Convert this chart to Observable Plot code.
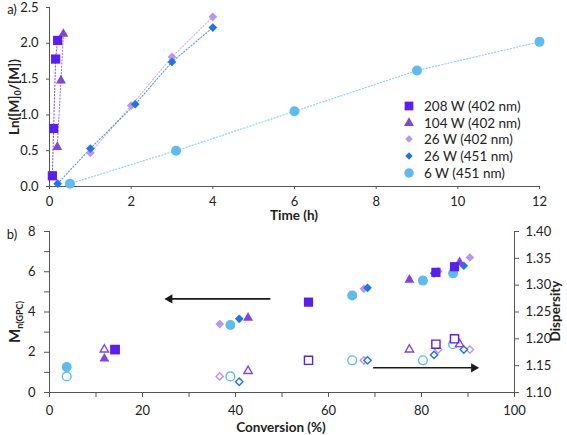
<!DOCTYPE html>
<html><head><meta charset="utf-8">
<script src="https://cdn.jsdelivr.net/npm/d3@7"></script>
<script src="https://cdn.jsdelivr.net/npm/@observablehq/plot@0.6"></script>
<style>
body{margin:0;background:#fff;font-family:Lato,"Open Sans",sans-serif;}
#wrap{position:relative;width:567px;height:435px;overflow:hidden;background:#fff}
#wrap svg{position:absolute;left:0}
.abs{position:absolute;white-space:nowrap;color:#222;font-size:13px;line-height:1}
.b{font-weight:bold;font-size:13.5px}
.rot{transform:translate(-50%,-50%) rotate(-90deg)}
.ctr{transform:translate(-50%,-50%)}
.leg{position:absolute;left:402px;top:98px;font-size:13.5px;color:#222}
.leg div{height:16.6px;display:flex;align-items:center}
.leg svg{position:static!important;margin-right:8px}
</style></head><body><div id="wrap"></div>
<script>
// ---------- series ----------
const seriesNames   = ["208 W (402 nm)", "104 W (402 nm)", "26 W (402 nm)", "26 W (451 nm)", "6 W (451 nm)"];
const seriesColors  = ["#5a1ff0", "#7d45e3", "#b895ee", "#1f74ea", "#5dbcee"];
const seriesSymbols = ["square", "triangle", "diamond2", "diamond2", "circle"];
const seriesRadius  = [5.2, 3.7, 3.9, 3.9, 5];

// ---------- a) kinetics: time (h) and Ln([M]0/[M]) ----------
const time208 = [0.07, 0.10, 0.15, 0.20];
const ln208   = [0.15, 0.81, 1.78, 2.04];
const time104 = [0.19, 0.28, 0.34];
const ln104   = [0.55, 1.48, 2.13];
const time26a = [1.0, 2.0, 3.0, 4.0];
const ln26a   = [0.47, 1.13, 1.81, 2.37];
const time26b = [0.2, 1.0, 2.1, 3.0, 4.0];
const ln26b   = [0.04, 0.53, 1.15, 1.74, 2.22];
const time6   = [0.5, 3.1, 6.0, 9.0, 12.0];
const ln6     = [0.04, 0.50, 1.05, 1.62, 2.02];
const timeTicks = [0, 2, 4, 6, 8, 10, 12];
const lnTicks   = [0, 0.5, 1.0, 1.5, 2.0, 2.5];

// ---------- b) conversion (%), Mn(GPC), dispersity ----------
const conv208 = [14.1, 55.7, 83.1, 87.1];
const mn208   = [2.13, 4.49, 5.97, 6.25];
const disp208 = [1.18, 1.16, 1.19, 1.20];
const conv104 = [11.8, 42.7, 77.4, 88.2];
const mn104   = [1.68, 3.71, 5.60, 6.47];
const disp104 = [1.18, 1.14, 1.18, 1.19];
const conv26a = [36.6, 67.6, 83.6, 90.4];
const mn26a   = [3.40, 5.15, 6.02, 6.71];
const disp26a = [1.13, 1.16, 1.18, 1.18];
const conv26b = [40.8, 68.4, 82.7, 89.1];
const mn26b   = [3.66, 5.20, 5.92, 6.30];
const disp26b = [1.12, 1.16, 1.17, 1.18];
const conv6   = [3.7, 38.9, 65.1, 80.3, 86.8];
const mn6     = [1.27, 3.35, 4.82, 5.56, 5.92];
const disp6   = [1.13, 1.13, 1.16, 1.16, 1.19];
const convTicks = [0, 10, 20, 30, 40, 50, 60, 70, 80, 90, 100];
const mnTicks   = [0, 1, 2, 3, 4, 5, 6, 7, 8];
const dispTicks = [1.10, 1.15, 1.20, 1.25, 1.30, 1.35, 1.40];
const mnDomain = [0, 8];
const dispDomain = [1.10, 1.40];
// arrows: [from, to] in conversion, at level
const arrowMn   = {from: 47.5, to: 25.0, level: 4.65};   // Mn axis
const arrowDisp = {from: 69.6, to: 92.1, level: 1.146};  // dispersity axis

const FONT = 'Lato, "Open Sans", sans-serif';
const dispToMn = d => (d - dispDomain[0]) / (dispDomain[1] - dispDomain[0]) * (mnDomain[1] - mnDomain[0]) + mnDomain[0];

const kinTimes = [time208, time104, time26a, time26b, time6];
const kinVals  = [ln208, ln104, ln26a, ln26b, ln6];
const kin = seriesNames.map((s, i) => kinTimes[i].map((t, j) => ({s, i, t, v: kinVals[i][j]})));

const convs = [conv208, conv104, conv26a, conv26b, conv6];
const mns   = [mn208, mn104, mn26a, mn26b, mn6];
const disps = [disp208, disp104, disp26a, disp26b, disp6];
const gpc = seriesNames.map((s, i) => convs[i].map((c, j) => ({s, i, c, mn: mns[i][j], d: disps[i][j], dy: dispToMn(disps[i][j])})));

const drawOrderTop = [4, 2, 3, 1, 0];

const topPlot = Plot.plot({
  width: 567, height: 218, marginLeft: 49, marginRight: 28, marginTop: 7, marginBottom: 32,
  style: {fontFamily: FONT, fontSize: "13px", color: "#222", background: "transparent"},
  x: {domain: [0, 12]}, y: {domain: [0, 2.5]},
  marks: [
    Plot.axisX({ticks: timeTicks, tickSize: 3, tickPadding: 7, label: null, stroke: "#555"}),
    Plot.axisY({ticks: lnTicks, tickFormat: d => d.toFixed(1), tickSize: 3, tickPadding: 8, label: null, stroke: "#555"}),
    Plot.ruleX([0], {stroke: "#555"}),
    Plot.ruleY([0], {stroke: "#555"}),
    ...drawOrderTop.map(i => Plot.line(kin[i], {x: "t", y: "v", stroke: seriesColors[i], strokeWidth: 1.1, strokeDasharray: "1.2,2", strokeOpacity: 0.75})),
    ...drawOrderTop.map(i => Plot.dot(kin[i], {x: "t", y: "v", symbol: seriesSymbols[i], fill: seriesColors[i], r: seriesRadius[i], stroke: "none"}))
  ]
});
topPlot.style.top = "0px";

const bottomPlot = Plot.plot({
  width: 567, height: 217, marginLeft: 49, marginRight: 53, marginTop: 13, marginBottom: 43,
  style: {fontFamily: FONT, fontSize: "13px", color: "#222", background: "transparent"},
  x: {domain: [0, 100]}, y: {domain: mnDomain},
  marks: [
    Plot.axisX({ticks: convTicks, tickFormat: d => d % 20 ? "" : d, tickSize: 5, tickPadding: 8, label: null, stroke: "#555"}),
    Plot.axisY({ticks: mnTicks, tickFormat: d => d % 2 ? "" : d, tickSize: 5, tickPadding: 9, label: null, stroke: "#555"}),
    Plot.axisY({anchor: "right", ticks: dispTicks.map(dispToMn), tickFormat: v => (dispDomain[0] + (v - mnDomain[0]) / (mnDomain[1] - mnDomain[0]) * (dispDomain[1] - dispDomain[0])).toFixed(2), tickSize: 4, tickPadding: 7, label: null, stroke: "#555"}),
    Plot.ruleX([0, 100], {stroke: "#555"}),
    Plot.ruleY([0], {stroke: "#555"}),
    // dispersity (open)
    ...[4, 2, 3, 1, 0].map(i => Plot.dot(gpc[i], {x: "c", y: "dy", symbol: seriesSymbols[i], fill: "white", stroke: seriesColors[i], strokeWidth: 1.4, r: seriesRadius[i] - 0.6})),
    // Mn (filled)
    ...[4, 2, 3, 1, 0].map(i => Plot.dot(gpc[i], {x: "c", y: "mn", symbol: seriesSymbols[i], fill: seriesColors[i], stroke: "none", r: seriesRadius[i]})),
    // arrows
    Plot.link([arrowMn], {x1: "from", x2: "to", y1: "level", y2: "level", stroke: "#1a1a1a", strokeWidth: 1.6}),
    Plot.dot([arrowMn], {x: "to", y: "level", symbol: "triangle", rotate: -90, r: 3.4, fill: "#1a1a1a", dx: 4}),
    Plot.link([arrowDisp], {x1: "from", x2: "to", y1: d => dispToMn(d.level), y2: d => dispToMn(d.level), stroke: "#1a1a1a", strokeWidth: 1.6}),
    Plot.dot([arrowDisp], {x: "to", y: d => dispToMn(d.level), symbol: "triangle", rotate: 90, r: 3.4, fill: "#1a1a1a", dx: -4})
  ]
});
bottomPlot.style.top = "218px";

const wrap = document.getElementById("wrap");
wrap.appendChild(topPlot);
wrap.appendChild(bottomPlot);

function label(html, x, y, cls) {
  const d = document.createElement("div");
  d.className = "abs " + cls;
  d.innerHTML = html;
  d.style.left = x + "px"; d.style.top = y + "px";
  wrap.appendChild(d);
}
label("a)", 12, 9, "ctr");
label("b)", 12, 234, "ctr");
label("Time (h)", 294, 216, "b ctr");
label("Conversion (%)", 281, 428, "b ctr");
label('Ln([M]<sub style="font-size:9px;vertical-align:-2px">0</sub>/[M])', 15, 97, "b rot");
label('<span style="font-size:15px">M</span><sub style="font-size:9px;vertical-align:-3px">n(GPC)</sub>', 15, 322, "b rot");
label("Dispersity", 556, 311, "b rot");

// legend
const leg = document.createElement("div");
leg.className = "leg";
seriesNames.forEach((s, i) => {
  const row = document.createElement("div");
  const sym = d3.symbol(d3["symbol" + {square: "Square", triangle: "Triangle", diamond2: "Diamond2", circle: "Circle"}[seriesSymbols[i]]], Math.PI * seriesRadius[i] * seriesRadius[i] * (i === 2 || i === 3 ? 0.75 : (i === 1 ? 1 : 0.9)))();
  row.innerHTML = `<svg width="14" height="14" viewBox="-7 -7 14 14"><path d="${sym}" fill="${seriesColors[i]}"/></svg><span>${s}</span>`;
  leg.appendChild(row);
});
wrap.appendChild(leg);
</script></body></html>
